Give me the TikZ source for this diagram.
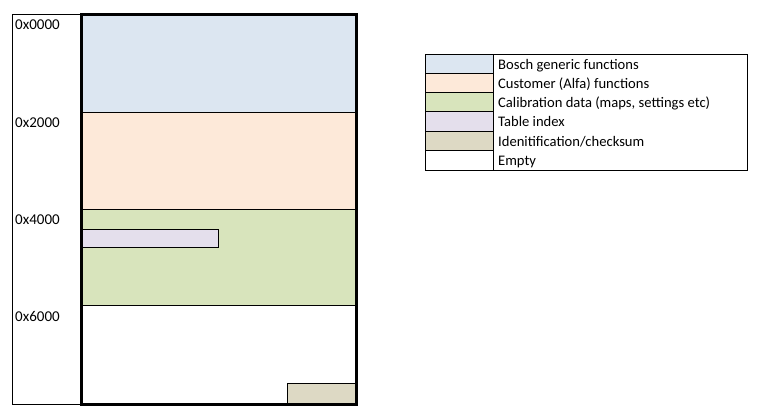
\documentclass[tikz,border=0pt]{standalone}
\usepackage{fontspec}
\setmainfont{Carlito}
\definecolor{cblue}{HTML}{DCE6F1}
\definecolor{cpeach}{HTML}{FDE9D9}
\definecolor{cgreen}{HTML}{D8E4BC}
\definecolor{clav}{HTML}{E4DFEC}
\definecolor{ctan}{HTML}{DDD9C4}
\begin{document}
\begin{tikzpicture}[x=1pt,y=-1pt,
  lbl/.style={anchor=base west,inner sep=0pt,font=\fontsize{15}{16}\selectfont},
  thin/.style={draw=black,line width=0.9pt},
  leg/.style={anchor=base west,inner sep=0pt,font=\fontsize{14.6}{15}\selectfont}]
\useasboundingbox (0,0) rectangle (761,415);
% address column
\draw[thin] (12,14) rectangle (81,404);
\node[lbl] (a0) at (15,29) {0x0000};
\node[lbl] (a2) at (15,127) {0x2000};
\node[lbl] (a4) at (15,224) {0x4000};
\node[lbl] (a6) at (15,321) {0x6000};
% sections
\fill[cblue] (81,14) rectangle (356,112);
\fill[cpeach] (81,112) rectangle (356,209);
\fill[cgreen] (81,209) rectangle (356,305);
\draw[thin] (81,112) -- (356,112);
\draw[thin] (81,209) -- (356,209);
\draw[thin] (81,305) -- (356,305);
\draw[thin,fill=clav] (81,229) rectangle (218,247);
\draw[thin,fill=ctan] (287,383) rectangle (356,404);
\draw[line width=3pt] (81,14) rectangle (356,404);
% legend
\fill[cblue] (425,54) rectangle (493,73.3);
\fill[cpeach] (425,73.3) rectangle (493,92.6);
\fill[cgreen] (425,92.6) rectangle (493,111.9);
\fill[clav] (425,111.9) rectangle (493,131.2);
\fill[ctan] (425,131.2) rectangle (493,150.5);
\foreach \y in {73.3,92.6,111.9,131.2,150.5} \draw[thin] (425,\y) -- (493,\y);
\draw[thin] (425,54) rectangle (747,170);
\draw[thin] (493,54) -- (493,170);
\node[leg] (l1) at (498,69) {Bosch generic functions};
\node[leg] (l2) at (498,88.3) {Customer (Alfa) functions};
\node[leg] (l3) at (498,107.6) {Calibration data (maps, settings etc)};
\node[leg] (l4) at (498,126.9) {Table index};
\node[leg] (l5) at (498,146.2) {Idenitification/checksum};
\node[leg] (l6) at (498,165.5) {Empty};
\end{tikzpicture}
\end{document}
